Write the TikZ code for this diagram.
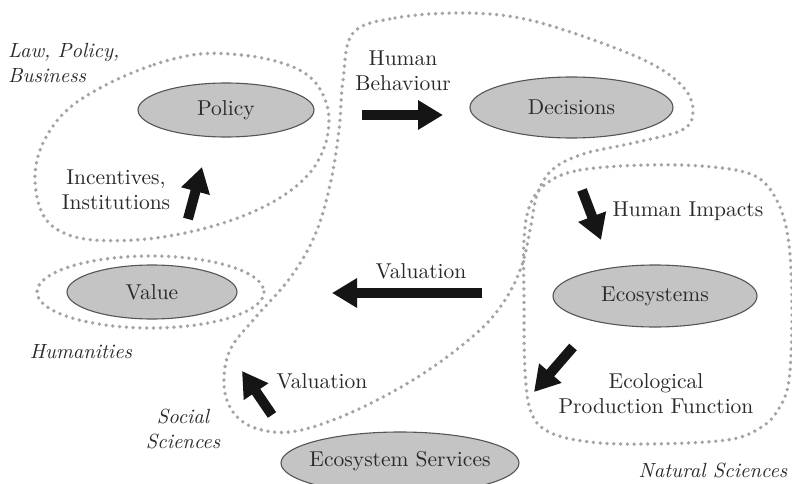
\documentclass[tikz,border=0pt]{standalone}
\usepackage{fontspec}
\setmainfont{lmroman10}[Extension=.otf, UprightFont=*-regular, ItalicFont=*-italic, BoldFont=*-bold]
\usetikzlibrary{arrows.meta,shapes.geometric}
\definecolor{ellfill}{HTML}{C4C4C4}
\definecolor{elldraw}{HTML}{555555}
\definecolor{dotc}{HTML}{A4A4A4}
\definecolor{txtc}{HTML}{2A2A2A}
\definecolor{arrc}{HTML}{151515}
\tikzset{
  oval/.style={ellipse, draw=elldraw, fill=ellfill, line width=1.1pt, inner sep=0pt},
  rmtext/.style={text=txtc, font=\fontsize{21.5}{25}\selectfont, align=center, inner sep=0pt},
  ittext/.style={text=txtc, font=\fontsize{20.5}{24.5}\selectfont\itshape, inner sep=0pt},
  dots/.style={draw=dotc, line width=3.8pt, line cap=round, dash pattern=on 0pt off 6.8pt},
  blockarrow/.style={draw=arrc, line width=10pt, -{Triangle[width=28pt,length=25pt]}},
}
\begin{document}
\begin{tikzpicture}[x=1pt,y=-1pt]
\useasboundingbox (0,0) rectangle (792,484);
\fill[white] (0,0) rectangle (792,484);

% dotted regions
\draw[dots] plot[smooth cycle, tension=0.6] coordinates {
  (200,54) (150,66) (100,88) (65,112) (43,143) (35,175) (40,208) (55,228)
  (85,239) (135,240) (185,233) (235,219) (278,199) (308,175) (324,148)
  (329,120) (324,97) (311,78) (288,65) (250,56)};
\draw[dots] (150.5,292) ellipse [x radius=113.5, y radius=36];
\draw[dots] plot[smooth cycle, tension=0.6] coordinates {
  (353,33) (395,18) (460,13) (520,18) (585,37) (650,63) (684,88) (693,112)
  (682,130) (633,143) (583,154) (552,170) (537,195) (531,225) (522,265)
  (505,300) (480,330) (433,367) (383,397) (333,420) (290,432) (255,428)
  (233,412) (224,385) (230,350) (255,318) (290,278) (315,235) (330,185)
  (339,130) (343,80)};
\draw[dots] plot[smooth cycle, tension=0.6] coordinates {
  (547,183) (580,170) (647,165) (713,167) (757,177) (779,205) (789,245)
  (792,310) (789,380) (778,410) (760,428) (727,440) (650,444) (590,442)
  (549,432) (531,412) (525,370) (524,300) (524,240) (530,205)};

% ellipses
\node[oval, minimum width=176pt, minimum height=54pt] (policy) at (226,110) {};
\node[rmtext] at (policy) {Policy};
\node[oval, minimum width=203pt, minimum height=61pt] (decisions) at (571.5,107.5) {};
\node[rmtext] at (decisions) {Decisions};
\node[oval, minimum width=170pt, minimum height=54pt] (value) at (152,292) {};
\node[rmtext] at (value) {Value};
\node[oval, minimum width=204pt, minimum height=62pt] (ecosystems) at (655,296) {};
\node[rmtext] at (ecosystems) {Ecosystems};
\node[oval, minimum width=238pt, minimum height=62pt] (services) at (400,463) {};
\node[rmtext] at (400,461) {Ecosystem Services};

% arrows
\coordinate (hbA) at (362,115); \coordinate (hbB) at (443,115);
\coordinate (inA) at (188,219); \coordinate (inB) at (202,167);
\coordinate (hiA) at (582,190); \coordinate (hiB) at (601,240);
\coordinate (vaA) at (482,293); \coordinate (vaB) at (332,293);
\coordinate (vbA) at (272,415); \coordinate (vbB) at (242,371);
\coordinate (epA) at (573,347); \coordinate (epB) at (534,392);
\draw[blockarrow] (hbA) -- (hbB);
\draw[blockarrow] (inA) -- (inB);
\draw[blockarrow] (hiA) -- (hiB);
\draw[blockarrow] (vaA) -- (vaB);
\draw[blockarrow] (vbA) -- (vbB);
\draw[blockarrow] (epA) -- (epB);

% labels
\node[rmtext] (lhb) at (403,71) {Human\\Behaviour};
\node[rmtext] (lin) at (116,190) {Incentives,\\Institutions};
\node[rmtext] (lhi) at (688,211) {Human Impacts};
\node[rmtext] (lva) at (421,271) {Valuation};
\node[rmtext] (lvb) at (322,381) {Valuation};
\node[rmtext] (lep) at (656,394) {Ecological\\Production Function};

\node[ittext, anchor=west, align=left] (llaw) at (8,63) {Law, Policy,\\Business};
\node[ittext] (lhum) at (81,352) {Humanities};
\node[ittext, align=center] (lsoc) at (183,429) {Social\\Sciences};
\node[ittext] (lnat) at (713,470) {Natural Sciences};
\end{tikzpicture}
\end{document}
